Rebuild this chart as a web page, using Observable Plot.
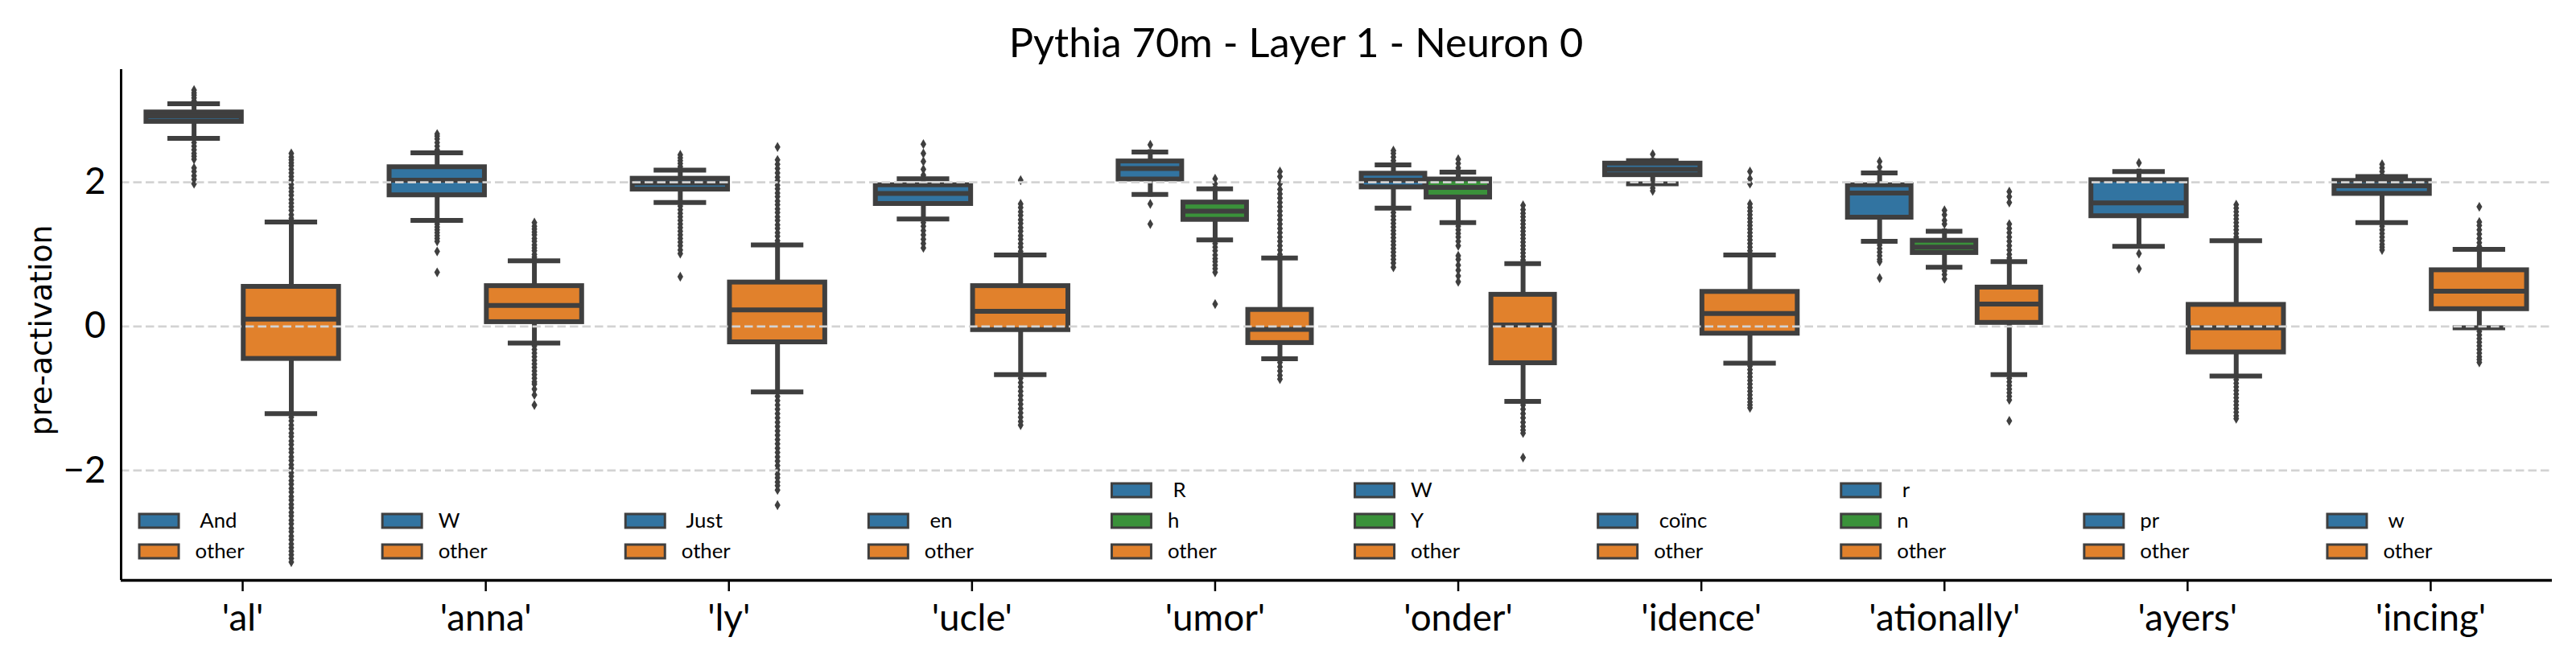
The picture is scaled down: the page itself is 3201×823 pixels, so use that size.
<!DOCTYPE html>
<html>
<head>
<meta charset="utf-8">
<script src="https://cdn.jsdelivr.net/npm/d3@7"></script>
<script src="https://cdn.jsdelivr.net/npm/@observablehq/plot@0.6"></script>
<style>
  html, body { margin: 0; padding: 0; background: #fff; }
  #chart svg { display: block; }
</style>
</head>
<body>
<div id="chart"></div>
<script>
// ---------- data ----------
const title = "Pythia 70m - Layer 1 - Neuron 0";
const yLabel = "pre-activation";
const tokens = ["'al'", "'anna'", "'ly'", "'ucle'", "'umor'", "'onder'", "'idence'", "'ationally'", "'ayers'", "'incing'"];
const yTicks = [-2, 0, 2];
const yDomain = [-3.524, 3.564];

// one entry per box
const boxToken = [0, 0, 1, 1, 2, 2, 3, 3, 4, 4, 4, 5, 5, 5, 6, 6, 7, 7, 7, 8, 8, 9, 9];
const boxLabel = [" And", "other", "W", "other", " Just", "other", " en", "other", " R", "h", "other",
                  "W", "Y", "other", " coïnc", "other", " r", "n", "other", "pr", "other", " w", "other"];
const boxHue = ["main", "other", "main", "other", "main", "other", "main", "other", "main", "alt", "other",
                "main", "alt", "other", "main", "other", "main", "alt", "other", "main", "other", "main", "other"];
const q1 =        [2.84, -0.45, 1.82, 0.06, 1.90, -0.22, 1.70, -0.05, 2.04, 1.48, -0.23, 1.93, 1.79, -0.51, 2.10, -0.10, 1.51, 1.02, 0.05, 1.53, -0.36, 1.84, 0.24];
const median =    [2.92, 0.10, 2.03, 0.29, 1.99, 0.23, 1.845, 0.21, 2.19, 1.60, -0.04, 2.03, 1.93, 0.02, 2.18, 0.18, 1.85, 1.10, 0.31, 1.715, -0.02, 1.95, 0.49];
const q3 =        [2.97, 0.55, 2.21, 0.56, 2.05, 0.61, 1.96, 0.56, 2.29, 1.72, 0.23, 2.12, 2.04, 0.44, 2.26, 0.48, 1.96, 1.19, 0.54, 2.03, 0.30, 2.02, 0.78];
const whiskerLo = [2.61, -1.21, 1.47, -0.23, 1.72, -0.91, 1.49, -0.67, 1.83, 1.20, -0.45, 1.64, 1.44, -1.04, 1.98, -0.51, 1.18, 0.82, -0.67, 1.11, -0.69, 1.44, -0.02];
const whiskerHi = [3.09, 1.45, 2.41, 0.91, 2.17, 1.13, 2.05, 0.99, 2.42, 1.91, 0.95, 2.24, 2.14, 0.87, 2.30, 0.99, 2.13, 1.32, 0.90, 2.15, 1.19, 2.08, 1.07];
const fliers = [
  [3.28, 3.24, 3.21, 3.17, 3.13, 2.55, 2.50, 2.45, 2.40, 2.36, 2.32, 2.20, 2.15, 2.09, 2.04, 1.98],
  [1.50, 1.55, 1.61, 1.66, 1.71, 1.76, 1.82, 1.87, 1.92, 1.97, 2.03, 2.08, 2.13, 2.18, 2.23, 2.27, 2.31, 2.35, 2.40,
   -1.26, -1.31, -1.37, -1.42, -1.48, -1.53, -1.59, -1.64, -1.70, -1.75, -1.81, -1.86, -1.92, -1.97, -2.03, -2.08,
   -2.14, -2.19, -2.25, -2.30, -2.36, -2.41, -2.47, -2.52, -2.58, -2.63, -2.69, -2.74, -2.80, -2.85, -2.91, -2.96,
   -3.02, -3.07, -3.12, -3.17, -3.22, -3.27],
  [2.45, 2.50, 2.55, 2.60, 2.64, 2.67, 1.42, 1.38, 1.34, 1.30, 1.26, 1.22, 1.18, 1.04, 0.75],
  [0.96, 1.00, 1.05, 1.09, 1.13, 1.18, 1.22, 1.27, 1.31, 1.35, 1.39, 1.44,
   -0.27, -0.32, -0.37, -0.42, -0.47, -0.52, -0.57, -0.62, -0.67, -0.72, -0.77, -0.80, -0.87, -0.95, -1.09],
  [2.22, 2.26, 2.30, 2.34, 2.38, 1.67, 1.62, 1.57, 1.52, 1.47, 1.42, 1.37, 1.32, 1.27, 1.22, 1.17, 1.12, 1.06, 1.01, 0.69],
  [2.49, 2.31, 2.25, 2.19, 2.13, 2.07, 2.02, 1.96, 1.91, 1.85, 1.80, 1.74, 1.69, 1.63, 1.58, 1.52, 1.47, 1.41, 1.36, 1.30, 1.25, 1.19,
   -0.97, -1.03, -1.09, -1.15, -1.21, -1.27, -1.33, -1.39, -1.45, -1.51, -1.57, -1.63, -1.69, -1.75, -1.81, -1.87,
   -1.93, -1.99, -2.05, -2.10, -2.16, -2.21, -2.27, -2.48],
  [2.53, 2.40, 2.29, 2.18, 2.10, 1.44, 1.39, 1.33, 1.27, 1.21, 1.15, 1.09],
  [2.03, 1.70, 1.65, 1.59, 1.54, 1.48, 1.43, 1.37, 1.32, 1.26, 1.21, 1.15, 1.10, 1.04,
   -0.72, -0.78, -0.84, -0.90, -0.96, -1.02, -1.08, -1.14, -1.20, -1.26, -1.32, -1.37],
  [2.52, 1.70, 1.42],
  [2.05, 1.98, 1.15, 1.10, 1.05, 0.99, 0.94, 0.90, 0.85, 0.80, 0.75, 0.31],
  [2.15, 2.08, 1.98, 1.90, 1.84, 1.78, 1.72, 1.66, 1.60, 1.54, 1.48, 1.42, 1.36, 1.30, 1.24, 1.18, 1.12, 1.06, 1.00,
   -0.50, -0.56, -0.62, -0.68, -0.73],
  [2.30, 2.35, 2.40, 2.44, 1.58, 1.53, 1.48, 1.43, 1.38, 1.33, 1.28, 1.23, 1.18, 1.13, 1.08, 1.03, 0.98, 0.93, 0.88, 0.82],
  [2.20, 2.26, 2.32, 1.39, 1.34, 1.29, 1.24, 1.18, 1.12, 0.98, 0.93, 0.85, 0.78, 0.70, 0.62],
  [0.92, 0.97, 1.02, 1.07, 1.12, 1.17, 1.22, 1.27, 1.32, 1.37, 1.42, 1.47, 1.52, 1.57, 1.62, 1.68,
   -1.09, -1.15, -1.21, -1.27, -1.33, -1.39, -1.44, -1.48, -1.82],
  [2.39, 1.92, 1.88],
  [2.15, 2.05, 1.98, 1.70, 1.65, 1.60, 1.55, 1.50, 1.45, 1.40, 1.35, 1.30, 1.25, 1.20, 1.15, 1.10, 1.05,
   -0.55, -0.60, -0.65, -0.70, -0.75, -0.80, -0.85, -0.90, -0.95, -1.00, -1.05, -1.09, -1.13],
  [2.29, 2.21, 1.13, 1.08, 1.03, 0.98, 0.93, 0.90, 0.67],
  [1.61, 1.55, 1.47, 1.42, 0.77, 0.72, 0.66],
  [1.87, 1.80, 1.72, 1.42, 1.36, 1.30, 1.24, 1.18, 1.12, 1.06, 1.00, 0.95,
   -0.72, -0.77, -0.82, -0.87, -0.92, -0.97, -1.02, -1.31],
  [2.27, 1.01, 0.80],
  [1.24, 1.29, 1.34, 1.39, 1.44, 1.49, 1.54, 1.59, 1.64, 1.69,
   -0.74, -0.79, -0.84, -0.89, -0.94, -0.99, -1.04, -1.09, -1.14, -1.19, -1.24, -1.28],
  [2.15, 2.20, 2.25, 1.39, 1.34, 1.29, 1.24, 1.19, 1.14, 1.10, 1.06],
  [1.66, 1.45, 1.40, 1.34, 1.28, 1.22, 1.16, 1.11, -0.07, -0.12, -0.17, -0.22, -0.27, -0.32, -0.37, -0.42, -0.46, -0.50]
];

// ---------- styling ----------
const hueDomain = ["main", "alt", "other"];
const hueColors = ["#3274a1", "#3a923a", "#e1812c"];
const edge = "#3f3f3f";
const font = "Lato, 'Open Sans', sans-serif";

// fit font sizes to the reference text widths
const ctx = document.createElement("canvas").getContext("2d");
function fit(text, family, target) {
  ctx.font = `100px ${family}`;
  return 100 * target / ctx.measureText(text).width;
}
const titleSize = fit(title, font, 715);
const tickFont = fit("'ationally'", font, 188);
const legendFont = fit("other", font, 61);
const ylabelFont = fit(yLabel, "'DejaVu Sans'", 262);

// ---------- derived table (seaborn dodge layout) ----------
const groupSize = tokens.map((_, t) => boxToken.filter(b => b === t).length);
const boxes = boxToken.map((t, i) => {
  const j = boxToken.slice(0, i).filter(b => b === t).length;
  const n = groupSize[t];
  const step = 0.8 / n;
  const cx = t + (j - (n - 1) / 2) * step;
  const hw = step * 0.98 / 2;
  return {
    i, t, j, n, label: boxLabel[i], hue: boxHue[i], cx,
    x1: cx - hw, x2: cx + hw, c1: cx - hw / 2, c2: cx + hw / 2,
    q1: q1[i], med: median[i], q3: q3[i], lo: whiskerLo[i], hi: whiskerHi[i]
  };
});
const flierRows = boxes.flatMap(b => fliers[b.i].map(v => ({cx: b.cx, v})));
const legendRows = boxes.map(b => ({t: b.t, label: b.label.replace(/^ /, "\u00a0"), hue: b.hue, row: b.n - 1 - b.j}));

// custom symbols
const thinDiamond = {draw(c) { c.moveTo(0, -6.2); c.lineTo(3.6, 0); c.lineTo(0, 6.2); c.lineTo(-3.6, 0); c.closePath(); }};
const patch = {draw(c) { c.rect(-24.5, -8.5, 49, 17); }};

const rowDy = [-36, -74, -112];
const legendMarks = [0, 1, 2].flatMap(k => {
  const rows = legendRows.filter(r => r.row === k);
  return [
    Plot.dot(rows, {x: "t", frameAnchor: "bottom", dx: -104, dy: rowDy[k], symbol: patch,
                    fill: "hue", stroke: edge, strokeWidth: 3}),
    Plot.text(rows, {x: "t", text: "label", frameAnchor: "bottom", dx: -59, dy: rowDy[k],
                     textAnchor: "start", lineAnchor: "middle", fontSize: legendFont, fontFamily: font, fill: "black"})
  ];
});

const W = 3201, H = 823, mL = 150, mR = 30, mT = 86, mB = 102;

const chart = Plot.plot({
  width: W, height: H,
  marginLeft: mL, marginRight: mR, marginTop: mT, marginBottom: mB,
  style: {fontFamily: font, background: "white", color: "black", overflow: "visible"},
  x: {domain: [-0.5, tokens.length - 0.5]},
  y: {domain: yDomain},
  color: {domain: hueDomain, range: hueColors},
  marks: [
    // whiskers
    Plot.ruleX(boxes, {x: "cx", y1: "q1", y2: "lo", stroke: edge, strokeWidth: 6, strokeLinecap: "square"}),
    Plot.ruleX(boxes, {x: "cx", y1: "q3", y2: "hi", stroke: edge, strokeWidth: 6, strokeLinecap: "square"}),
    // caps
    Plot.ruleY(boxes, {y: "lo", x1: "c1", x2: "c2", stroke: edge, strokeWidth: 6, strokeLinecap: "square"}),
    Plot.ruleY(boxes, {y: "hi", x1: "c1", x2: "c2", stroke: edge, strokeWidth: 6, strokeLinecap: "square"}),
    // boxes
    Plot.rect(boxes, {x1: "x1", x2: "x2", y1: "q1", y2: "q3", fill: "hue", stroke: edge, strokeWidth: 6, strokeLinejoin: "miter"}),
    // medians
    Plot.ruleY(boxes, {y: "med", x1: "x1", x2: "x2", stroke: edge, strokeWidth: 6}),
    // fliers
    Plot.dot(flierRows, {x: "cx", y: "v", symbol: thinDiamond, fill: edge, stroke: "none"}),
    // grid on top
    Plot.ruleY(yTicks, {stroke: "#d3d3d3", strokeWidth: 2.7, strokeDasharray: "10.5,5"}),
    // spines
    Plot.ruleX([-0.5], {stroke: "black", strokeWidth: 3}),
    Plot.ruleY([yDomain[0]], {stroke: "black", strokeWidth: 3.5}),
    // axes
    Plot.axisX({ticks: d3.range(tokens.length), tickFormat: i => tokens[i], tickSize: 14,
                tickPadding: 783 - 735 - 0.71 * tickFont, fontSize: tickFont, strokeWidth: 2.5, label: null}),
    Plot.axisY({ticks: yTicks, tickSize: 0, tickPadding: 19, fontSize: tickFont, label: null}),
    // legends
    ...legendMarks,
    // title and y label
    Plot.text([title], {frameAnchor: "top", dx: 1610 - (mL + (W - mL - mR) / 2), dy: 70 - mT,
                        textAnchor: "middle", lineAnchor: "bottom", fontSize: titleSize, fontFamily: font, fill: "black"}),
    Plot.text([yLabel], {frameAnchor: "left", rotate: -90, dx: 63 - mL, dy: 410 - (mT + (H - mT - mB) / 2),
                         textAnchor: "middle", lineAnchor: "bottom", fontSize: ylabelFont, fontFamily: "DejaVu Sans", fill: "black"})
  ]
});
document.getElementById("chart").appendChild(chart);
</script>
</body>
</html>
